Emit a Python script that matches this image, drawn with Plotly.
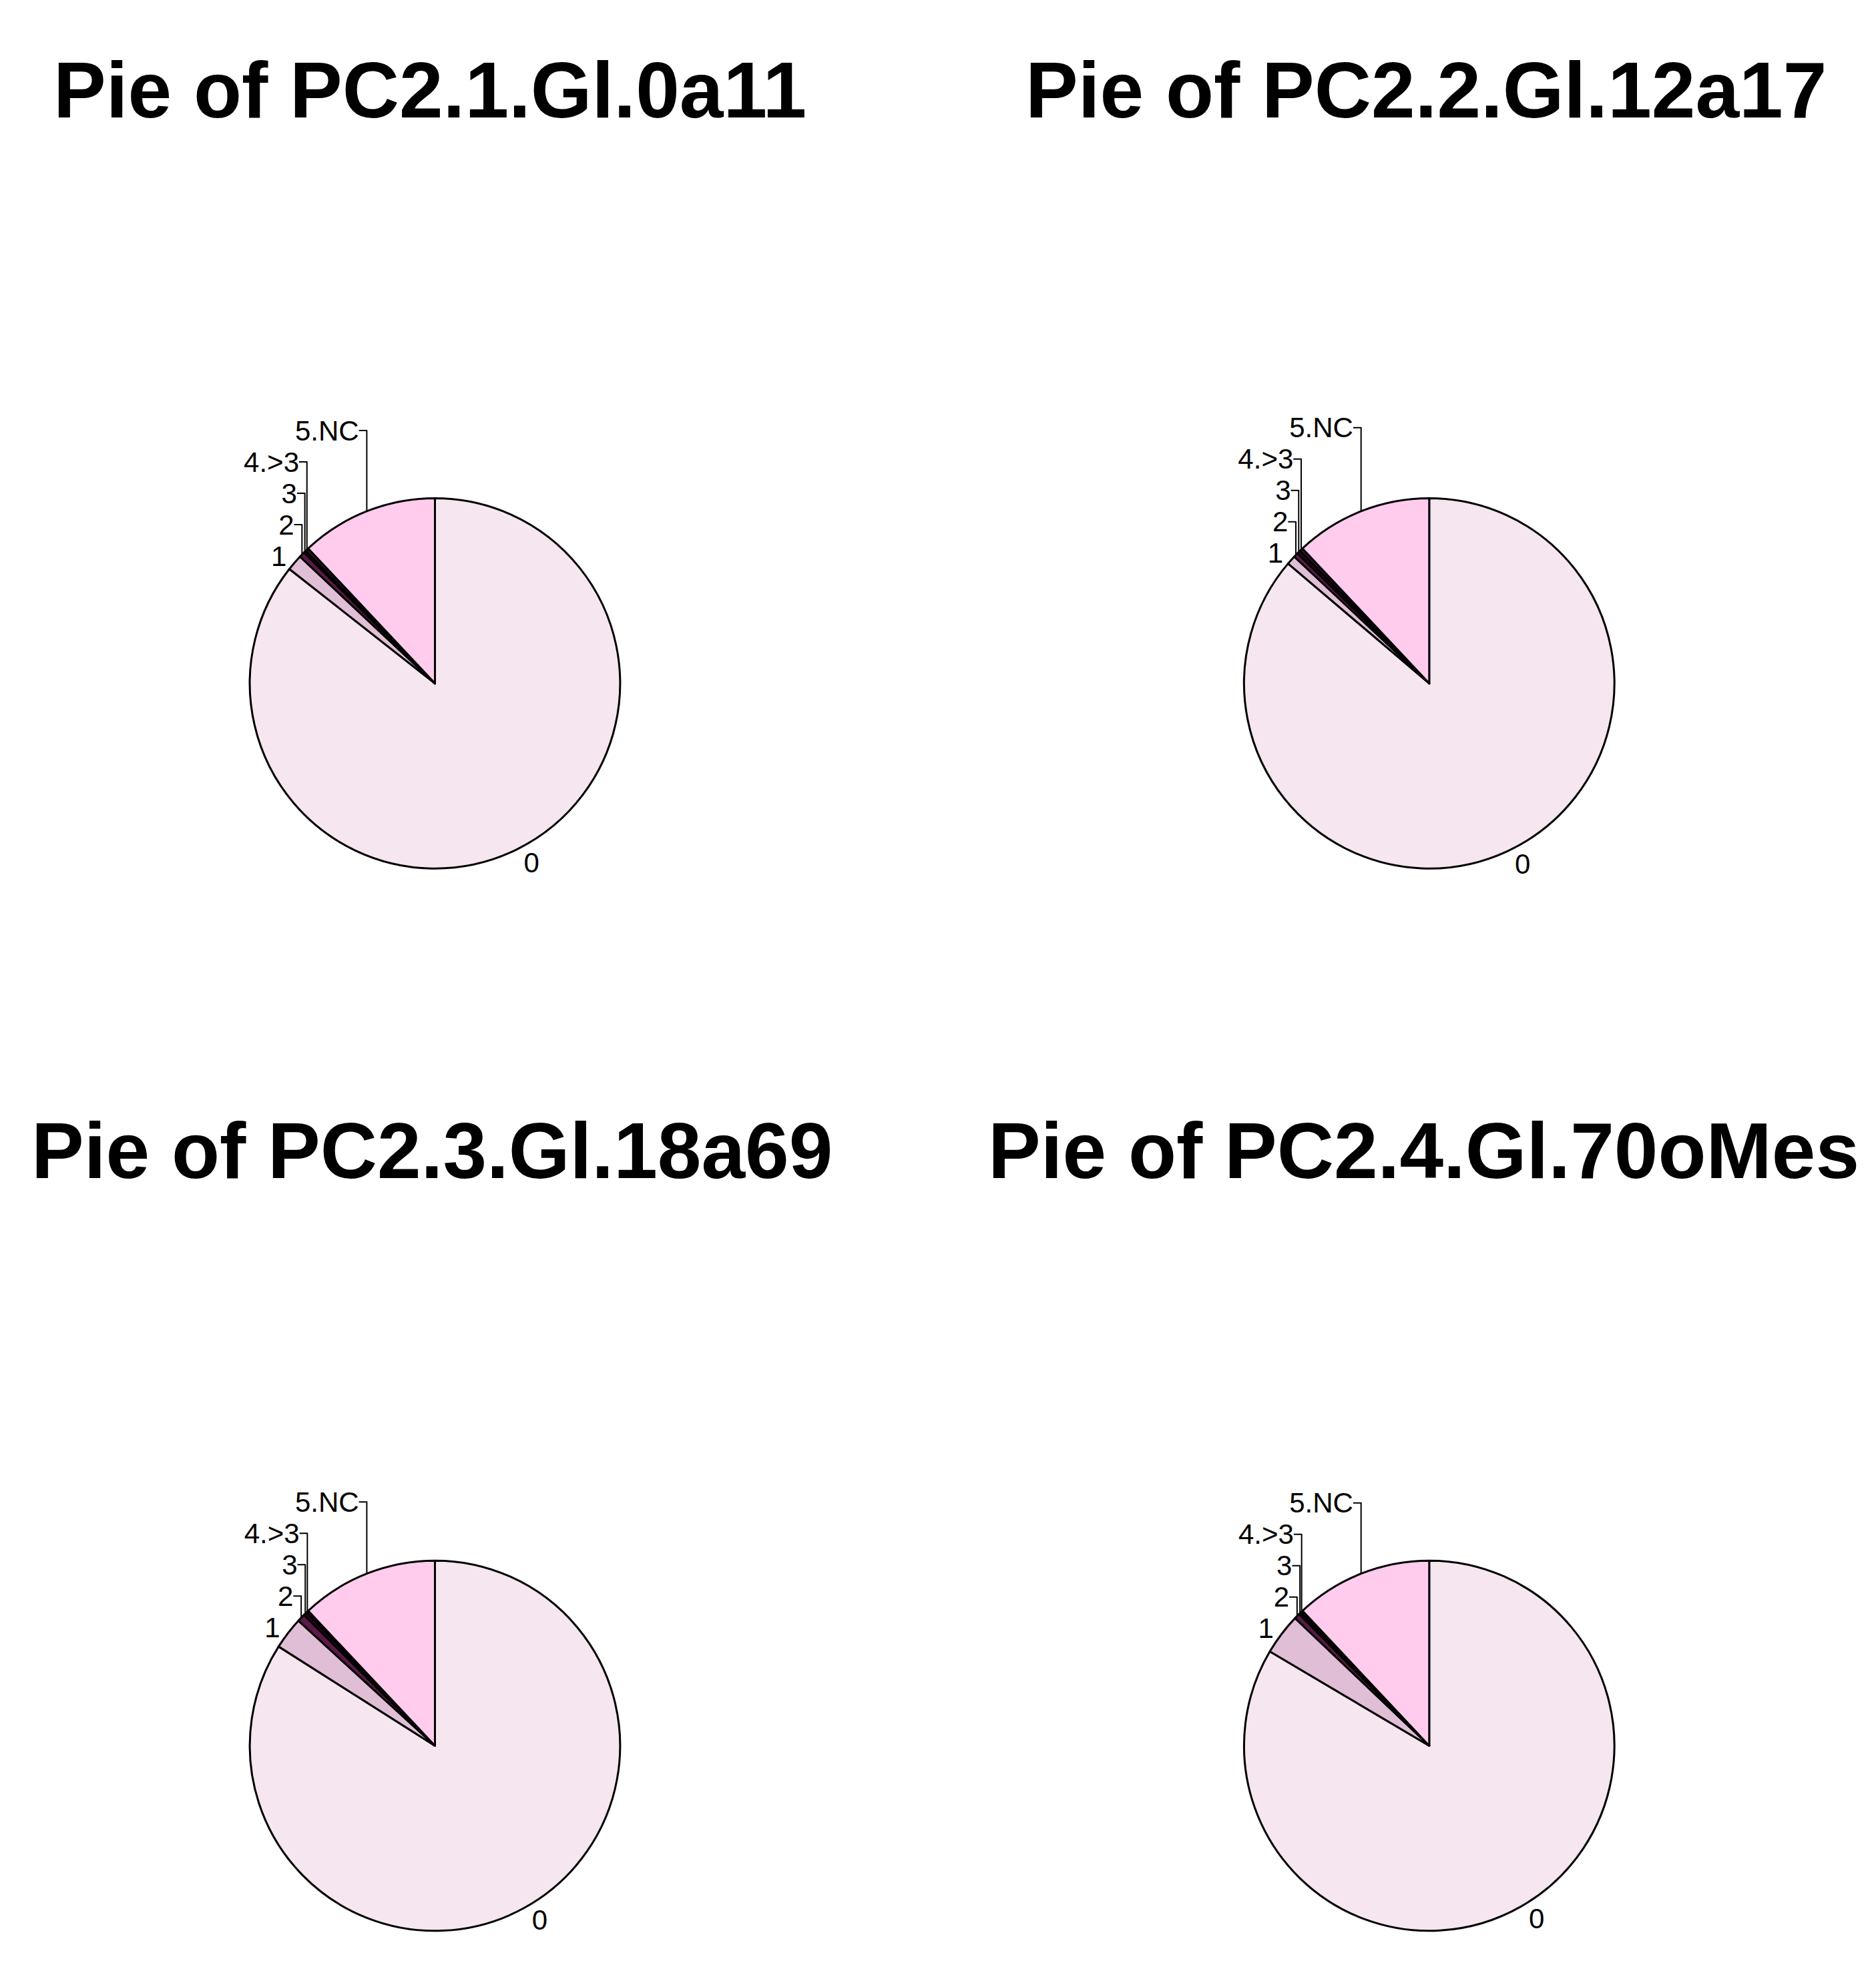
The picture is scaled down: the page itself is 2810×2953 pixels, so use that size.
import plotly.graph_objects as go

labels = ["0", "1", "2", "3", "4.>3", "5.NC"]
titles = ["Pie of PC2.1.Gl.0a11", "Pie of PC2.2.Gl.12a17",
          "Pie of PC2.3.Gl.18a69", "Pie of PC2.4.Gl.70oMes"]
values_1 = [85.6, 1.4, 0.5, 0.2, 0.3, 12.0]
values_2 = [86.2, 0.8, 0.4, 0.3, 0.3, 12.0]
values_3 = [84.0, 2.8, 0.7, 0.3, 0.2, 12.0]
values_4 = [83.5, 3.6, 0.5, 0.2, 0.2, 12.0]
colors = ["#F5E6F0", "#E0BED6", "#5A1A47", "#2A0A20", "#3A1030", "#FFCCEE"]

series = [values_1, values_2, values_3, values_4]
centers = [(0.229, 0.656), (0.759, 0.656), (0.229, 0.117), (0.759, 0.117)]
title_pos = [(0.025, 0.957), (0.543, 0.957), (0.013, 0.419), (0.523, 0.419)]
rx, ry = 0.0987, 0.095

fig = go.Figure()
for vals, (cx, cy) in zip(series, centers):
    fig.add_trace(go.Pie(
        labels=labels, values=vals, sort=False, direction="clockwise", rotation=0,
        marker=dict(colors=colors, line=dict(color="black", width=3)),
        textinfo="label", textposition="outside",
        textfont=dict(family="Liberation Sans", size=42, color="black"),
        domain=dict(x=[cx - rx, cx + rx], y=[cy - ry, cy + ry]),
        showlegend=False, hoverinfo="label+value"))

for t, (tx, ty) in zip(titles, title_pos):
    fig.add_annotation(text="<b>%s</b>" % t, x=tx, y=ty, xref="paper", yref="paper",
                       showarrow=False, xanchor="left", yanchor="middle",
                       font=dict(family="Liberation Sans", size=118, color="black"))

fig.update_layout(width=2810, height=2953, paper_bgcolor="white", plot_bgcolor="white",
                  margin=dict(l=0, r=0, t=0, b=0))
fig.write_html("out.html")
